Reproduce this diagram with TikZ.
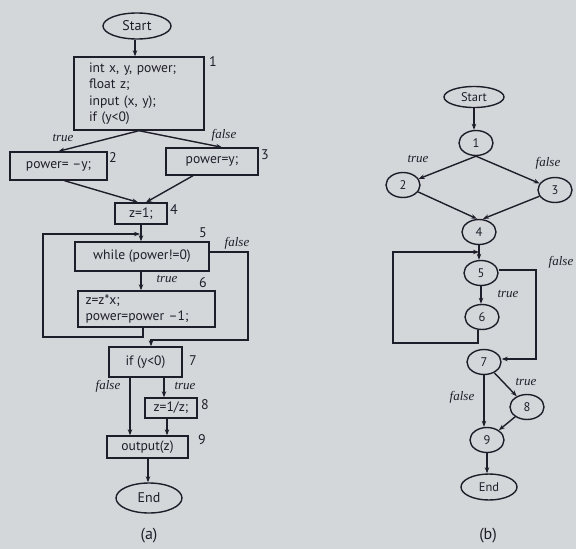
\documentclass[tikz,border=0pt]{standalone}
\usepackage{fontspec}
\newfontfamily\diagfont{PT Sans}
\newfontfamily\lblfont{Liberation Serif}
\usetikzlibrary{arrows.meta,calc,shapes.geometric}
\definecolor{paper}{RGB}{212,215,218}
\definecolor{ink}{RGB}{30,30,42}
\begin{document}
\begin{tikzpicture}[x=1pt,y=-1pt, color=ink, line width=1.4pt,
  box/.style={draw=ink, rectangle, inner sep=0pt, text=ink, font=\diagfont\fontsize{13.6}{16.5}\selectfont},
  term/.style={draw=ink, ellipse, inner sep=0pt, text=ink, font=\diagfont\fontsize{14}{14}\selectfont},
  gn/.style={draw=ink, ellipse, minimum width=34pt, minimum height=25pt, inner sep=0pt, text=ink, font=\diagfont\fontsize{12.5}{12.5}\selectfont},
  lab/.style={text=ink, font=\lblfont\itshape\fontsize{13}{13}\selectfont},
  num/.style={text=ink, font=\diagfont\fontsize{14}{14}\selectfont},
  captxt/.style={text=ink, font=\diagfont\fontsize{16}{16}\selectfont},
  arr/.style={draw=ink, -{Stealth[length=6pt,width=4.5pt]}}]
\fill[paper] (0,0) rectangle (576,549);
\useasboundingbox (0,0) rectangle (576,549);

% ---------- (a) flowchart ----------
\node[term, minimum width=68pt, minimum height=26pt] (start) at (137,26) {Start};
\node[box, minimum height=73pt, text width=100pt, inner xsep=15pt, align=left] (b1) at (139,93.5) {int x, y, power;\\float z;\\input (x, y);\\if (y<0)};
\node[box, minimum width=97pt, minimum height=28pt] (b2) at (58.5,166) {power= –y;};
\node[box, minimum width=92pt, minimum height=27pt] (b3) at (212,161.5) {power=y;};
\node[box, minimum width=52pt, minimum height=21pt] (b4) at (141,213.5) {z=1;};
\node[box, minimum width=134pt, minimum height=29pt] (b5) at (142,256.5) {while (power!=0)};
\node[box, minimum height=36pt, text width=122pt, inner xsep=7.5pt, align=left] (b6) at (146.5,309) {z=z*x;\\power=power –1;};
\node[box, minimum width=73pt, minimum height=30pt] (b7) at (145.5,362) {if (y<0)};
\node[box, minimum width=52pt, minimum height=20pt] (b8) at (171,408) {z=1/z;};
\node[box, minimum width=81pt, minimum height=22pt] (b9) at (147.5,447) {output(z)};
\node[term, minimum width=66pt, minimum height=30pt] (end) at (149,498) {End};

\node[num] (l1) at (213,62) {1};
\node[num] (l2) at (113,158) {2};
\node[num] (l3) at (265,155) {3};
\node[num] (l4) at (174,210) {4};
\node[num] (l5) at (203,233) {5};
\node[num] (l6) at (203,283) {6};
\node[num] (l7) at (193,361) {7};
\node[num] (l8) at (205,405) {8};
\node[num] (l9) at (202,440) {9};

\node[lab] (ta1) at (63,138) {true};
\node[lab] (fa1) at (224,135) {false};
\node[lab] (fa5) at (237,243) {false};
\node[lab] (ta5) at (167,279) {true};
\node[lab] (fa7) at (108,386) {false};
\node[lab] (ta7) at (185,386) {true};
\node[captxt] (capa) at (149,536) {(a)};

\coordinate (s1) at (135,0);
\draw[arr] (s1 |- start.south) -- (s1 |- b1.north);
\draw[arr] (b1.south) -- (b2.north);
\draw[arr] (b1.south) -- ($(b3.north)+(10,0)$);
\draw[arr] ($(b2.south)+(6,0)$) -- ($(b4.north)+(-3,0)$);
\draw[arr] ($(b3.south)+(-19,0)$) -- ($(b4.north)+(5,0)$);
\coordinate (j5) at (140,234);
\draw[arr] (b4.south) -- (b4.south |- b5.north);
\coordinate (lpa) at (43,337);
\coordinate (o6) at (143,0);
\draw[arr] (o6 |- b6.south) |- (lpa) |- (j5);
\coordinate (m56) at (141,0);
\draw[arr] (m56 |- b5.south) -- (m56 |- b6.north);
\coordinate (o5) at ($(b5.east)+(0,-4.5)$);
\coordinate (fa) at (248,252);
\coordinate (fb) at (248,340);
\coordinate (fc) at (151,340);
\draw[arr] (o5) -- (fa) -- (fb) -- (fc) -- (fc |- b7.north);
\coordinate (f7) at (130,0);
\coordinate (t7) at (164,0);
\coordinate (t8) at (167,0);
\coordinate (e9) at (148,0);
\draw[arr] (f7 |- b7.south) -- (f7 |- b9.north);
\draw[arr] (t7 |- b7.south) -- (t7 |- b8.north);
\draw[arr] (t8 |- b8.south) -- (t8 |- b9.north);
\draw[arr] (e9 |- b9.south) -- (e9 |- end.north);

% ---------- (b) flow graph ----------
\node[term, minimum width=60pt, minimum height=21pt, font=\diagfont\fontsize{12.5}{12.5}\selectfont] (s) at (474,97) {Start};
\node[gn] (n1) at (476,143) {1};
\node[gn] (n2) at (403,185) {2};
\node[gn] (n3) at (555,190) {3};
\node[gn] (n4) at (479,232) {4};
\node[gn] (n5) at (481,273) {5};
\node[gn] (n6) at (482,317) {6};
\node[gn] (n7) at (484,362) {7};
\node[gn] (n8) at (527,407) {8};
\node[gn] (n9) at (487,440) {9};
\node[term, minimum width=56pt, minimum height=26pt, font=\diagfont\fontsize{12.5}{12.5}\selectfont] (e) at (489,487) {End};

\node[lab] (tb1) at (418,159) {true};
\node[lab] (fb1) at (548,163) {false};
\node[lab] (fb5) at (561,262) {false};
\node[lab] (tb5) at (508,294) {true};
\node[lab] (tb7) at (526,382) {true};
\node[lab] (fb7) at (462,397) {false};
\node[captxt] (capb) at (488,536) {(b)};

\draw[arr] (s.south) -- (s.south |- n1.north);
\draw[arr] (n1.south) -- (n2);
\draw[arr] (n1.south) -- (n3);
\draw[arr] (n2) -- ($(n4.north)+(-2,0)$);
\draw[arr] (n3) -- ($(n4.north)+(4,0)$);
\draw[arr] (n4.south) -- (n4.south |- n5.north);
\coordinate (jb) at (479,252);
\coordinate (lpb) at (393,343);
\coordinate (o6b) at ($(n6.south)+(-4,0)$);
\draw[arr] (o6b) |- (lpb) |- (jb);
\draw[arr] (n5.south) -- (n5.south |- n6.north);
\coordinate (fr) at (536,300);
\coordinate (o5b) at ($(n5.east)+(0,-3)$);
\coordinate (i7b) at ($(n7.east)+(0,-3)$);
\draw[arr] (o5b) -| (fr) |- (i7b);
\draw[arr] (n7) -- (n8);
\draw[arr] (n7.south) -- (n7.south |- n9.north);
\draw[arr] (n8) -- (n9);
\draw[arr] (n9.south) -- (n9.south |- e.north);
\end{tikzpicture}
\end{document}
